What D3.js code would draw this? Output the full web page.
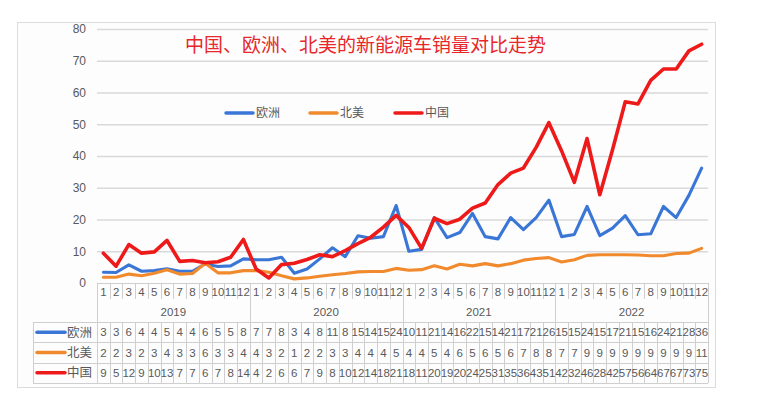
<!DOCTYPE html>
<html><head><meta charset="utf-8">
<script src="https://cdn.jsdelivr.net/npm/d3@7"></script>
<style>
html,body{margin:0;padding:0;background:#fff;}
svg{display:block;}
</style></head>
<body>
<svg id="c" width="759" height="394"></svg>
<script>
const title = "中国、欧洲、北美的新能源车销量对比走势";
const years = ["2019","2020","2021","2022"];
const months = ["1","2","3","4","5","6","7","8","9","10","11","12"];
const seriesNames = ["欧洲","北美","中国"];
const seriesColors = ["#3a76d6","#f18a2c","#ee1a1a"];
const yTicks = [0,10,20,30,40,50,60,70,80];

const europe = [3.4,3.3,5.7,3.7,3.9,4.5,3.7,3.7,6.0,5.2,5.4,7.6,
  7.3,7.3,8.1,3.1,4.4,7.6,11.1,8.3,14.9,14.1,14.6,24.4,
  10.0,10.6,20.6,14.3,15.9,21.9,14.6,13.9,20.6,16.8,20.6,26.1,
  14.6,15.3,24.1,14.9,17.3,21.2,15.2,15.5,24.1,20.6,27.6,36.2];
const northAmerica = [1.8,1.8,2.8,2.3,3.1,4.2,2.8,3.0,6.2,3.2,3.2,3.9,
  3.9,3.4,2.3,1.3,1.6,2.1,2.6,3.0,3.5,3.6,3.6,4.6,
  4.0,4.2,5.4,4.4,5.9,5.4,6.1,5.4,6.1,7.2,7.7,8.0,
  6.6,7.3,8.7,8.9,8.9,8.9,8.8,8.6,8.6,9.3,9.4,10.9];
const china = [9.4,5.3,12.1,9.4,9.8,13.4,6.8,7.1,6.4,6.7,8.1,13.7,
  4.4,1.6,5.8,6.2,7.4,8.9,8.3,10.2,12.4,14.4,17.6,21.3,
  17.5,10.9,20.4,18.7,20.1,23.6,25.2,31.0,34.6,36.2,42.7,50.5,
  41.6,31.7,45.5,27.8,42.0,57.1,56.4,63.8,67.4,67.4,73.1,75.2];

const seriesValues = [europe, northAmerica, china];
const categories = [];
years.forEach(yr => months.forEach(m => categories.push({year:yr, month:m, key:yr+"-"+m})));

const svg = d3.select("#c");
const font = "'Liberation Sans', Arial, sans-serif";
const cjk = "'Noto Sans CJK SC', sans-serif";
const textCol = "#595959";
const gridCol = "#d9d9d9";
const tblCol = "#cfcfcf";

// frame
svg.append("rect").attr("x",17.5).attr("y",22.5).attr("width",698).attr("height",365)
  .attr("fill","#fdfdfe").attr("stroke","#dcdcdc");

const plotLeft = 97, plotRight = 708, plotTop = 29, zeroY = 283;
const x = d3.scaleBand().domain(categories.map(d=>d.key)).range([plotLeft,plotRight]).paddingInner(0).paddingOuter(0);
const bw = x.bandwidth();
const y = d3.scaleLinear().domain([0,80]).range([zeroY, plotTop]);

// y axis + gridlines
const yAxis = d3.axisLeft(y).tickValues(yTicks).tickSizeInner(-(plotRight-plotLeft)).tickSizeOuter(0).tickPadding(11);
const yg = svg.append("g").attr("transform",`translate(${plotLeft},0)`).call(yAxis);
yg.select(".domain").remove();
yg.selectAll(".tick line").attr("stroke", d => d===0 ? "none" : gridCol).attr("stroke-width",1.3);
yg.selectAll(".tick text").attr("fill",textCol).attr("font-family",font).attr("font-size","12px");

// category axis (multi-level)
const axisG = svg.append("g");
axisG.append("line").attr("x1",plotLeft).attr("x2",plotRight).attr("y1",zeroY+0.5).attr("y2",zeroY+0.5).attr("stroke",tblCol).attr("stroke-width",1.2);
const boundaries = d3.range(categories.length+1);
boundaries.forEach(i => {
  const bx = Math.round(plotLeft + i*bw) + 0.5;
  const isYear = i % 12 === 0;
  axisG.append("line").attr("x1",bx).attr("x2",bx).attr("y1",zeroY).attr("y2", isYear ? 322 : 299)
    .attr("stroke",tblCol).attr("stroke-width",1);
});
axisG.selectAll("text.m").data(categories).join("text").attr("class","m")
  .attr("x", d => x(d.key)+bw/2).attr("y",292).attr("dy","0.35em").attr("text-anchor","middle")
  .attr("fill",textCol).attr("font-family",font).attr("font-size","11.5px").text(d=>d.month);
axisG.selectAll("text.yr").data(years).join("text").attr("class","yr")
  .attr("x", (d,i) => plotLeft + (i*12+6)*bw).attr("y",312).attr("dy","0.35em").attr("text-anchor","middle")
  .attr("fill",textCol).attr("font-family",font).attr("font-size","11.5px").text(d=>d);

// data table
const tableTop = 322, rowH = 20.3, tblLeft = 33;
const tbl = svg.append("g");
for (let r=0;r<=3;r++){
  const ry = Math.round(tableTop + r*rowH)+0.5;
  tbl.append("line").attr("x1",tblLeft).attr("x2",plotRight).attr("y1",ry).attr("y2",ry).attr("stroke",tblCol);
}
[tblLeft].concat(boundaries.map(i=>plotLeft+i*bw)).forEach(bxr => {
  const bx = Math.round(bxr)+0.5;
  tbl.append("line").attr("x1",bx).attr("x2",bx).attr("y1",tableTop).attr("y2",tableTop+3*rowH).attr("stroke",tblCol);
});
seriesNames.forEach((name, s) => {
  const cy = tableTop + rowH*(s+0.5);
  tbl.append("line").attr("x1",37).attr("x2",65).attr("y1",cy).attr("y2",cy)
    .attr("stroke",seriesColors[s]).attr("stroke-width",3.5).attr("stroke-linecap","round");
  tbl.append("text").attr("x",67).attr("y",cy).attr("dy","0.36em").attr("fill",textCol)
    .attr("font-family",cjk).attr("font-size","12.5px").text(name);
  tbl.selectAll("text.v"+s).data(seriesValues[s]).join("text").attr("class","v"+s)
    .attr("x",(d,i)=>x(categories[i].key)+bw/2).attr("y",cy).attr("dy","0.36em").attr("text-anchor","middle")
    .attr("fill",textCol).attr("font-family",font).attr("font-size","11.5px").text(d=>Math.round(d));
});

// lines
const line = d3.line().x((d,i)=>x(categories[i].key)+bw/2).y(d=>y(d));
seriesValues.forEach((vals,s) => {
  svg.append("path").datum(vals).attr("d",line).attr("fill","none")
    .attr("stroke",seriesColors[s]).attr("stroke-width", s===2 ? 3.6 : 3.1)
    .attr("stroke-linejoin","round").attr("stroke-linecap","round");
});

// title
svg.append("text").attr("x",365.5).attr("y",45).attr("dy","0.36em").attr("text-anchor","middle")
  .attr("fill","#e8272b").attr("font-family",cjk).attr("font-size","19px").text(title);

// legend
const legendX = [226,310,395];
seriesNames.forEach((name,s) => {
  const lx = legendX[s], ly = 113;
  svg.append("line").attr("x1",lx).attr("x2",lx+27).attr("y1",ly).attr("y2",ly)
    .attr("stroke",seriesColors[s]).attr("stroke-width",3.5).attr("stroke-linecap","round");
  svg.append("text").attr("x",lx+30).attr("y",ly).attr("dy","0.36em").attr("fill",textCol)
    .attr("font-family",cjk).attr("font-size","12px").text(name);
});
</script>
</body></html>
